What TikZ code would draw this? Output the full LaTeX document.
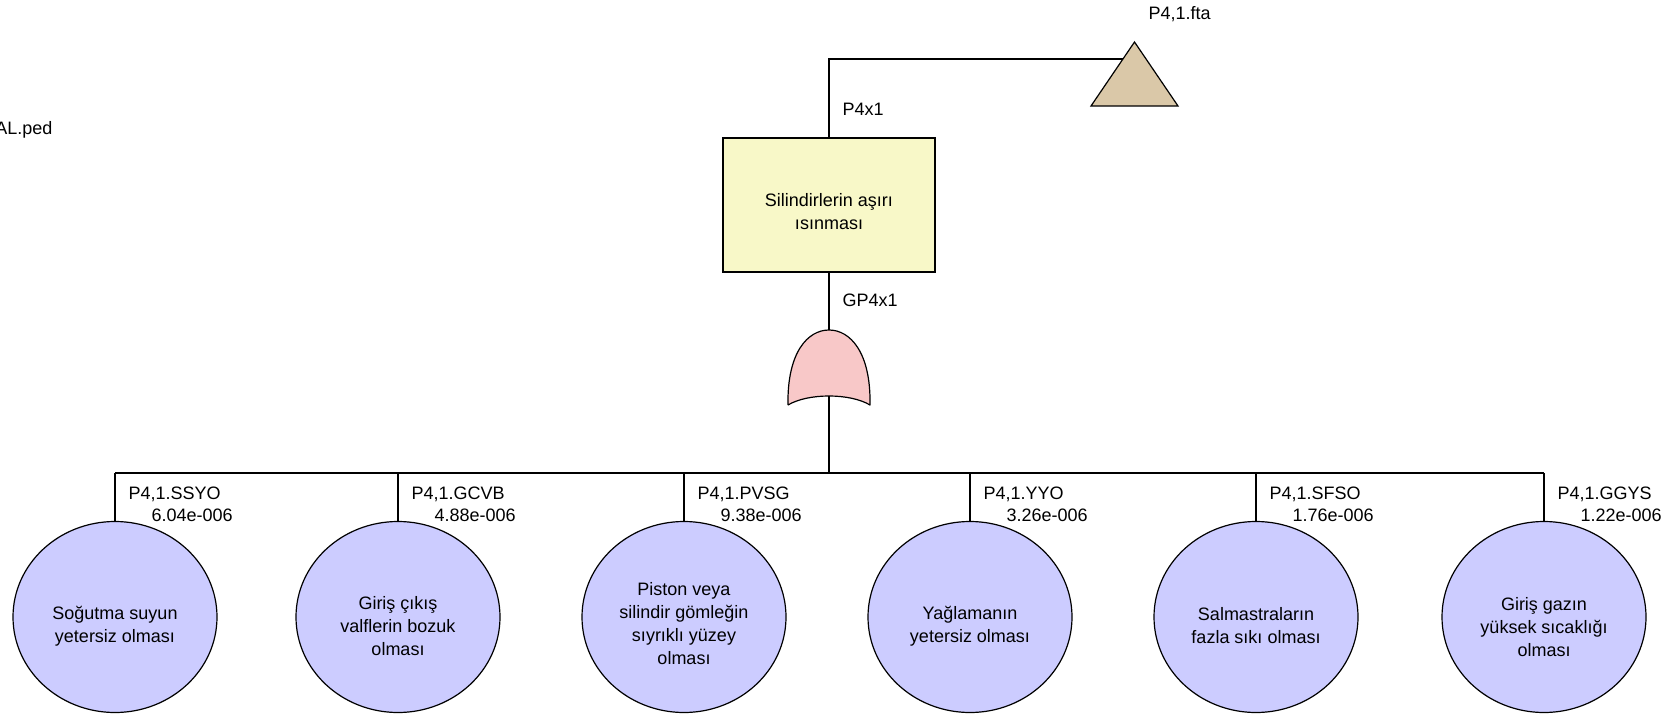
\documentclass[tikz,border=0pt]{standalone}
\usepackage{fontspec}
\setmainfont{Liberation Sans}
\usetikzlibrary{shapes.geometric}
\definecolor{topfill}{RGB}{248,248,200}
\definecolor{gatefill}{RGB}{248,200,200}
\definecolor{evtfill}{RGB}{204,204,255}
\definecolor{ftafill}{RGB}{218,200,168}
\begin{document}
\begin{tikzpicture}[x=1pt,y=-1pt,line width=1.2pt,
  font=\fontsize{18}{23}\selectfont,
  topbox/.style={draw=black,fill=topfill,minimum width=212pt,minimum height=134pt,inner sep=0pt},
  evt/.style={draw=black,fill=evtfill,ellipse,minimum width=204pt,minimum height=191pt,inner sep=0pt},
  bodytext/.style={align=center,inner sep=0pt},
  lbl/.style={anchor=west,inner sep=0pt,text height=13pt,text depth=0pt},
  gatestyle/.style={draw=black,fill=gatefill,line join=round},
  ftastyle/.style={draw=black,fill=ftafill,line join=miter}]
\useasboundingbox (0,0) rectangle (1679,717);

% file name at the left margin
\node[lbl,anchor=east] (ped) at (53,128) {AL.ped};

% transfer triangle
\draw[ftastyle] (1134.5,42) -- (1178,106) -- (1091,106) -- cycle;
\coordinate (fta) at (1123,59);
\node[lbl] (ftalbl) at (1148,13) {P4,1.fta};

% top event
\node[topbox] (top) at (829,205) {};
\node[bodytext] (toptext) at (829,212) {Silindirlerin aşırı\\ısınması};
\node[lbl] (toplbl) at (842,109) {P4x1};
\draw (top.north) |- (fta);

% OR gate
\draw[gatestyle] (788,405) .. controls (787,352) and (808,330) .. (829,330)
  .. controls (850,330) and (871,352) .. (870,405)
  .. controls (850,393) and (808,393) .. (788,405);
\coordinate (gtop) at (829,330);
\coordinate (gbot) at (829,396);
\node[lbl] (gatelbl) at (842,300) {GP4x1};
\draw (top.south) -- (gtop);

% basic events
\coordinate (bus) at (829,473);
\node[evt] (e1) at (115,617) {};
\node[evt] (e2) at (398,617) {};
\node[evt] (e3) at (684,617) {};
\node[evt] (e4) at (970,617) {};
\node[evt] (e5) at (1256,617) {};
\node[evt] (e6) at (1544,617) {};

\node[bodytext] (t1) at (115,626) {Soğutma suyun\\yetersiz olması};
\node[bodytext] (t2) at (398,626) {Giriş çıkış\\valflerin bozuk\\olması};
\node[bodytext] (t3) at (684,624) {Piston veya\\silindir gömleğin\\sıyrıklı yüzey\\olması};
\node[bodytext] (t4) at (970,626) {Yağlamanın\\yetersiz olması};
\node[bodytext] (t5) at (1256,626) {Salmastraların\\fazla sıkı olması};
\node[bodytext] (t6) at (1544,627) {Giriş gazın\\yüksek sıcaklığı\\olması};

\node[lbl] (n1) at (128,493) {P4,1.SSYO};
\node[lbl] (v1) at (151,515) {6.04e-006};
\node[lbl] (n2) at (411,493) {P4,1.GCVB};
\node[lbl] (v2) at (434,515) {4.88e-006};
\node[lbl] (n3) at (697,493) {P4,1.PVSG};
\node[lbl] (v3) at (720,515) {9.38e-006};
\node[lbl] (n4) at (983,493) {P4,1.YYO};
\node[lbl] (v4) at (1006,515) {3.26e-006};
\node[lbl] (n5) at (1269,493) {P4,1.SFSO};
\node[lbl] (v5) at (1292,515) {1.76e-006};
\node[lbl] (n6) at (1557,493) {P4,1.GGYS};
\node[lbl] (v6) at (1580,515) {1.22e-006};

% connectors from the gate down to the events
\draw (gbot) -- (bus);
\draw (e1.north |- bus) -- (e6.north |- bus);
\foreach \e in {e1,e2,e3,e4,e5,e6}
  \draw (\e.north) -- (\e.north |- bus);
\end{tikzpicture}
\end{document}
